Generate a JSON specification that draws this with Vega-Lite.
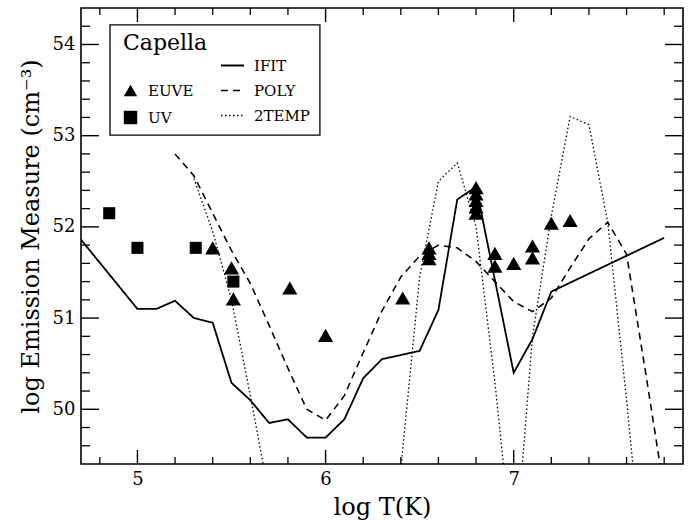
{
  "$schema": "https://vega.github.io/schema/vega-lite/v6.json",
  "width": 602,
  "height": 456,
  "autosize": {"type": "none"},
  "padding": {"left": 81, "top": 8, "right": 9, "bottom": 58},
  "background": "white",
  "config": {
    "view": {"stroke": "black", "strokeWidth": 1.6},
    "font": "DejaVu Serif",
    "axis": {
      "grid": false,
      "domain": false,
      "ticks": false,
      "labelFont": "DejaVu Serif",
      "labelFontSize": 18,
      "labelColor": "black",
      "titleFont": "DejaVu Serif",
      "titleFontSize": 24,
      "titleFontWeight": "normal",
      "titleColor": "black"
    },
    "legend": {
      "labelFont": "DejaVu Serif",
      "labelFontSize": 15,
      "labelColor": "black",
      "titleFont": "DejaVu Serif",
      "titleFontSize": 22,
      "titleFontWeight": "normal",
      "titleColor": "black"
    }
  },
  "datasets": {
    "lines": [
      {"model": "IFIT", "seg": "a", "logT": 4.7, "logEM": 51.86},
      {"model": "IFIT", "seg": "a", "logT": 5.0, "logEM": 51.10},
      {"model": "IFIT", "seg": "a", "logT": 5.1, "logEM": 51.10},
      {"model": "IFIT", "seg": "a", "logT": 5.2, "logEM": 51.19},
      {"model": "IFIT", "seg": "a", "logT": 5.3, "logEM": 51.00},
      {"model": "IFIT", "seg": "a", "logT": 5.4, "logEM": 50.95},
      {"model": "IFIT", "seg": "a", "logT": 5.5, "logEM": 50.29},
      {"model": "IFIT", "seg": "a", "logT": 5.6, "logEM": 50.10},
      {"model": "IFIT", "seg": "a", "logT": 5.7, "logEM": 49.85},
      {"model": "IFIT", "seg": "a", "logT": 5.8, "logEM": 49.89},
      {"model": "IFIT", "seg": "a", "logT": 5.9, "logEM": 49.69},
      {"model": "IFIT", "seg": "a", "logT": 6.0, "logEM": 49.69},
      {"model": "IFIT", "seg": "a", "logT": 6.1, "logEM": 49.89},
      {"model": "IFIT", "seg": "a", "logT": 6.2, "logEM": 50.34},
      {"model": "IFIT", "seg": "a", "logT": 6.3, "logEM": 50.55},
      {"model": "IFIT", "seg": "a", "logT": 6.5, "logEM": 50.64},
      {"model": "IFIT", "seg": "a", "logT": 6.6, "logEM": 51.09},
      {"model": "IFIT", "seg": "a", "logT": 6.7, "logEM": 52.30},
      {"model": "IFIT", "seg": "a", "logT": 6.8, "logEM": 52.44},
      {"model": "IFIT", "seg": "a", "logT": 7.0, "logEM": 50.40},
      {"model": "IFIT", "seg": "a", "logT": 7.1, "logEM": 50.77},
      {"model": "IFIT", "seg": "a", "logT": 7.2, "logEM": 51.29},
      {"model": "IFIT", "seg": "a", "logT": 7.8, "logEM": 51.88},
      {"model": "POLY", "seg": "a", "logT": 5.2, "logEM": 52.80},
      {"model": "POLY", "seg": "a", "logT": 5.3, "logEM": 52.56},
      {"model": "POLY", "seg": "a", "logT": 5.4, "logEM": 52.15},
      {"model": "POLY", "seg": "a", "logT": 5.5, "logEM": 51.74},
      {"model": "POLY", "seg": "a", "logT": 5.6, "logEM": 51.38},
      {"model": "POLY", "seg": "a", "logT": 5.7, "logEM": 50.92},
      {"model": "POLY", "seg": "a", "logT": 5.8, "logEM": 50.45},
      {"model": "POLY", "seg": "a", "logT": 5.9, "logEM": 50.00},
      {"model": "POLY", "seg": "a", "logT": 6.0, "logEM": 49.88},
      {"model": "POLY", "seg": "a", "logT": 6.1, "logEM": 50.15},
      {"model": "POLY", "seg": "a", "logT": 6.2, "logEM": 50.62},
      {"model": "POLY", "seg": "a", "logT": 6.3, "logEM": 51.08},
      {"model": "POLY", "seg": "a", "logT": 6.4, "logEM": 51.45},
      {"model": "POLY", "seg": "a", "logT": 6.5, "logEM": 51.68},
      {"model": "POLY", "seg": "a", "logT": 6.6, "logEM": 51.80},
      {"model": "POLY", "seg": "a", "logT": 6.7, "logEM": 51.77},
      {"model": "POLY", "seg": "a", "logT": 6.8, "logEM": 51.62},
      {"model": "POLY", "seg": "a", "logT": 6.9, "logEM": 51.40},
      {"model": "POLY", "seg": "a", "logT": 7.0, "logEM": 51.18},
      {"model": "POLY", "seg": "a", "logT": 7.1, "logEM": 51.07},
      {"model": "POLY", "seg": "a", "logT": 7.2, "logEM": 51.22},
      {"model": "POLY", "seg": "a", "logT": 7.3, "logEM": 51.55},
      {"model": "POLY", "seg": "a", "logT": 7.4, "logEM": 51.87},
      {"model": "POLY", "seg": "a", "logT": 7.5, "logEM": 52.05},
      {"model": "POLY", "seg": "a", "logT": 7.6, "logEM": 51.70},
      {"model": "POLY", "seg": "a", "logT": 7.7, "logEM": 50.42},
      {"model": "POLY", "seg": "a", "logT": 7.8, "logEM": 49.10},
      {"model": "2TEMP", "seg": "a", "logT": 5.3, "logEM": 52.53},
      {"model": "2TEMP", "seg": "a", "logT": 5.4, "logEM": 51.95},
      {"model": "2TEMP", "seg": "a", "logT": 5.5, "logEM": 51.20},
      {"model": "2TEMP", "seg": "a", "logT": 5.6, "logEM": 50.15},
      {"model": "2TEMP", "seg": "a", "logT": 5.7, "logEM": 49.05},
      {"model": "2TEMP", "seg": "b", "logT": 6.4, "logEM": 49.35},
      {"model": "2TEMP", "seg": "b", "logT": 6.5, "logEM": 51.45},
      {"model": "2TEMP", "seg": "b", "logT": 6.6, "logEM": 52.50},
      {"model": "2TEMP", "seg": "b", "logT": 6.7, "logEM": 52.70},
      {"model": "2TEMP", "seg": "b", "logT": 6.8, "logEM": 52.00},
      {"model": "2TEMP", "seg": "b", "logT": 6.9, "logEM": 50.30},
      {"model": "2TEMP", "seg": "b", "logT": 7.0, "logEM": 48.30},
      {"model": "2TEMP", "seg": "c", "logT": 7.0, "logEM": 48.20},
      {"model": "2TEMP", "seg": "c", "logT": 7.1, "logEM": 50.80},
      {"model": "2TEMP", "seg": "c", "logT": 7.2, "logEM": 52.12},
      {"model": "2TEMP", "seg": "c", "logT": 7.3, "logEM": 53.21},
      {"model": "2TEMP", "seg": "c", "logT": 7.4, "logEM": 53.12},
      {"model": "2TEMP", "seg": "c", "logT": 7.5, "logEM": 52.05},
      {"model": "2TEMP", "seg": "c", "logT": 7.6, "logEM": 50.10},
      {"model": "2TEMP", "seg": "c", "logT": 7.7, "logEM": 48.00}
    ],
    "points": [
      {"instrument": "UV", "logT": 4.85, "logEM": 52.15},
      {"instrument": "UV", "logT": 5.00, "logEM": 51.77},
      {"instrument": "UV", "logT": 5.31, "logEM": 51.77},
      {"instrument": "UV", "logT": 5.51, "logEM": 51.40},
      {"instrument": "EUVE", "logT": 5.40, "logEM": 51.77},
      {"instrument": "EUVE", "logT": 5.50, "logEM": 51.55},
      {"instrument": "EUVE", "logT": 5.51, "logEM": 51.21},
      {"instrument": "EUVE", "logT": 5.81, "logEM": 51.33},
      {"instrument": "EUVE", "logT": 6.00, "logEM": 50.81},
      {"instrument": "EUVE", "logT": 6.41, "logEM": 51.22},
      {"instrument": "EUVE", "logT": 6.55, "logEM": 51.77},
      {"instrument": "EUVE", "logT": 6.55, "logEM": 51.71},
      {"instrument": "EUVE", "logT": 6.55, "logEM": 51.65},
      {"instrument": "EUVE", "logT": 6.80, "logEM": 52.43},
      {"instrument": "EUVE", "logT": 6.80, "logEM": 52.36},
      {"instrument": "EUVE", "logT": 6.80, "logEM": 52.29},
      {"instrument": "EUVE", "logT": 6.80, "logEM": 52.22},
      {"instrument": "EUVE", "logT": 6.80, "logEM": 52.15},
      {"instrument": "EUVE", "logT": 6.90, "logEM": 51.71},
      {"instrument": "EUVE", "logT": 6.90, "logEM": 51.57},
      {"instrument": "EUVE", "logT": 7.00, "logEM": 51.60},
      {"instrument": "EUVE", "logT": 7.10, "logEM": 51.79},
      {"instrument": "EUVE", "logT": 7.10, "logEM": 51.66},
      {"instrument": "EUVE", "logT": 7.20, "logEM": 52.04},
      {"instrument": "EUVE", "logT": 7.30, "logEM": 52.07}
    ],
    "xmajor": [{"value": 5}, {"value": 6}, {"value": 7}],
    "xminor": [
      {"value": 4.8}, {"value": 5.2}, {"value": 5.4}, {"value": 5.6}, {"value": 5.8},
      {"value": 6.2}, {"value": 6.4}, {"value": 6.6}, {"value": 6.8},
      {"value": 7.2}, {"value": 7.4}, {"value": 7.6}, {"value": 7.8}
    ],
    "ymajor": [{"value": 50}, {"value": 51}, {"value": 52}, {"value": 53}, {"value": 54}],
    "yminor": [
      {"value": 49.6}, {"value": 49.8}, {"value": 50.2}, {"value": 50.4}, {"value": 50.6}, {"value": 50.8},
      {"value": 51.2}, {"value": 51.4}, {"value": 51.6}, {"value": 51.8},
      {"value": 52.2}, {"value": 52.4}, {"value": 52.6}, {"value": 52.8},
      {"value": 53.2}, {"value": 53.4}, {"value": 53.6}, {"value": 53.8}, {"value": 54.2}
    ]
  },
  "layer": [
    {
      "data": {"name": "lines"},
      "mark": {"type": "line", "clip": true, "color": "black"},
      "encoding": {
        "x": {
          "field": "logT", "type": "quantitative",
          "scale": {"domain": [4.7, 7.9], "nice": false, "zero": false},
          "axis": {
            "orient": "bottom",
            "values": [5, 6, 7],
            "format": ".0f",
            "labelPadding": 6,
            "labelOverlap": false,
            "labelFlush": false,
            "title": "log T(K)",
            "titlePadding": 7
          }
        },
        "y": {
          "field": "logEM", "type": "quantitative",
          "scale": {"domain": [49.4, 54.4], "nice": false, "zero": false},
          "axis": {
            "orient": "left",
            "values": [50, 51, 52, 53, 54],
            "format": ".0f",
            "labelPadding": 6,
            "labelOverlap": false,
            "labelFlush": false,
            "title": "log Emission Measure (cm⁻³)",
            "titlePadding": 9
          }
        },
        "strokeDash": {
          "field": "model", "type": "nominal",
          "scale": {"domain": ["IFIT", "POLY", "2TEMP"], "range": [[1, 0], [7, 5], [1.5, 2.5]]},
          "legend": {
            "orient": "none", "legendX": 139, "legendY": 45, "title": null,
            "symbolType": "stroke", "symbolSize": 529, "symbolStrokeWidth": 1.5, "symbolStrokeColor": "black",
            "labelOffset": 9, "rowPadding": 4
          }
        },
        "strokeWidth": {
          "field": "model", "type": "nominal",
          "scale": {"domain": ["IFIT", "POLY", "2TEMP"], "range": [1.8, 1.3, 1.1]},
          "legend": null
        },
        "detail": {"field": "seg"}
      }
    },
    {
      "data": {"name": "xmajor"},
      "mark": {"type": "rule", "color": "black", "strokeWidth": 1.4},
      "encoding": {
        "x": {"field": "value", "type": "quantitative"},
        "y": {"datum": 49.4, "type": "quantitative"},
        "y2": {"datum": 49.5535}
      }
    },
    {
      "data": {"name": "xmajor"},
      "mark": {"type": "rule", "color": "black", "strokeWidth": 1.4},
      "encoding": {
        "x": {"field": "value", "type": "quantitative"},
        "y": {"datum": 54.4, "type": "quantitative"},
        "y2": {"datum": 54.2465}
      }
    },
    {
      "data": {"name": "xminor"},
      "mark": {"type": "rule", "color": "black", "strokeWidth": 1.3},
      "encoding": {
        "x": {"field": "value", "type": "quantitative"},
        "y": {"datum": 49.4, "type": "quantitative"},
        "y2": {"datum": 49.4768}
      }
    },
    {
      "data": {"name": "xminor"},
      "mark": {"type": "rule", "color": "black", "strokeWidth": 1.3},
      "encoding": {
        "x": {"field": "value", "type": "quantitative"},
        "y": {"datum": 54.4, "type": "quantitative"},
        "y2": {"datum": 54.3232}
      }
    },
    {
      "data": {"name": "ymajor"},
      "mark": {"type": "rule", "color": "black", "strokeWidth": 1.4},
      "encoding": {
        "y": {"field": "value", "type": "quantitative"},
        "x": {"datum": 4.7, "type": "quantitative"},
        "x2": {"datum": 4.7957}
      }
    },
    {
      "data": {"name": "ymajor"},
      "mark": {"type": "rule", "color": "black", "strokeWidth": 1.4},
      "encoding": {
        "y": {"field": "value", "type": "quantitative"},
        "x": {"datum": 7.9, "type": "quantitative"},
        "x2": {"datum": 7.8043}
      }
    },
    {
      "data": {"name": "yminor"},
      "mark": {"type": "rule", "color": "black", "strokeWidth": 1.3},
      "encoding": {
        "y": {"field": "value", "type": "quantitative"},
        "x": {"datum": 4.7, "type": "quantitative"},
        "x2": {"datum": 4.7478}
      }
    },
    {
      "data": {"name": "yminor"},
      "mark": {"type": "rule", "color": "black", "strokeWidth": 1.3},
      "encoding": {
        "y": {"field": "value", "type": "quantitative"},
        "x": {"datum": 7.9, "type": "quantitative"},
        "x2": {"datum": 7.8522}
      }
    },
    {
      "data": {"values": [{}]},
      "mark": {"type": "rect", "fill": "white", "fillOpacity": 0, "stroke": "black", "strokeWidth": 1.3},
      "encoding": {
        "x": {"datum": 4.854, "type": "quantitative"},
        "x2": {"datum": 5.970},
        "y": {"datum": 54.214, "type": "quantitative"},
        "y2": {"datum": 53.007}
      }
    },
    {
      "data": {"name": "points"},
      "transform": [{"filter": "datum.instrument === 'UV'"}],
      "mark": {"type": "point", "filled": true, "opacity": 1, "color": "black", "size": 145},
      "encoding": {
        "x": {"field": "logT", "type": "quantitative"},
        "y": {"field": "logEM", "type": "quantitative"},
        "shape": {
          "field": "instrument", "type": "nominal",
          "scale": {"domain": ["EUVE", "UV"], "range": ["triangle-up", "square"]},
          "legend": {
            "orient": "none", "legendX": 42, "legendY": 25, "title": "Capella",
            "titlePadding": 28, "symbolSize": 180, "symbolFillColor": "black", "symbolStrokeColor": "black",
            "labelOffset": 10, "rowPadding": 7
          }
        }
      }
    },
    {
      "data": {"name": "points"},
      "transform": [{"filter": "datum.instrument === 'EUVE'"}],
      "mark": {"type": "point", "filled": true, "opacity": 1, "color": "black", "size": 230},
      "encoding": {
        "x": {"field": "logT", "type": "quantitative"},
        "y": {"field": "logEM", "type": "quantitative"},
        "shape": {
          "field": "instrument", "type": "nominal",
          "scale": {"domain": ["EUVE", "UV"], "range": ["triangle-up", "square"]},
          "legend": {
            "orient": "none", "legendX": 42, "legendY": 25, "title": "Capella",
            "titlePadding": 28, "symbolSize": 180, "symbolFillColor": "black", "symbolStrokeColor": "black",
            "labelOffset": 10, "rowPadding": 7
          }
        }
      }
    }
  ]
}
